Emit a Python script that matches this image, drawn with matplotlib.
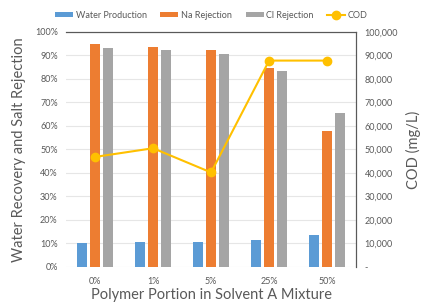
import matplotlib.pyplot as plt
import matplotlib.ticker as mticker
import numpy as np

plt.rcParams['font.family'] = ['Lato', 'DejaVu Sans']

# ===== Dados =====
categorias = ['0%', '1%', '5%', '25%', '50%']
water_production = [10.3, 10.4, 10.4, 11.5, 13.7]
na_rejection = [94.9, 93.4, 92.2, 84.8, 58.0]
cl_rejection = [93.3, 92.1, 90.6, 83.2, 65.6]
cod = [46800, 50500, 40200, 87800, 87800]

cores = {'water': '#5B9BD5', 'na': '#ED7D31', 'cl': '#A5A5A5', 'cod': '#FFC000'}
cor_texto = '#595959'

fig = plt.figure(figsize=(4.23, 3.04), dpi=100)
ax = fig.add_axes([0.156, 0.122, 0.686, 0.773])
ax2 = ax.twinx()

x = np.arange(len(categorias))
w = 0.17
d = 0.225
ax.bar(x - d, water_production, w, color=cores['water'], label='Water Production', zorder=2)
ax.bar(x, na_rejection, w, color=cores['na'], label='Na Rejection', zorder=2)
ax.bar(x + d, cl_rejection, w, color=cores['cl'], label='Cl Rejection', zorder=2)

ax2.plot(x, cod, color=cores['cod'], marker='o', markersize=6, linewidth=1.5, label='COD')

ax.set_xlim(-0.5, len(categorias) - 0.5)
ax.set_ylim(0, 100)
ax.set_yticks(np.arange(0, 101, 10))
ax.yaxis.set_major_formatter(mticker.FuncFormatter(lambda v, p: f'{int(v)}%'))
ax.set_xticks(x)
ax.set_xticklabels(categorias)

ax2.set_ylim(0, 100000)
ax2.set_yticks(np.arange(0, 100001, 10000))
ax2.yaxis.set_major_formatter(mticker.FuncFormatter(lambda v, p: '-' if v == 0 else f'{int(v):,}'))

ax.grid(axis='y', color='#E6E6E6', linewidth=0.8, zorder=0)
ax.set_axisbelow(True)

for a in (ax, ax2):
    a.spines['left'].set_visible(False)
    a.spines['bottom'].set_visible(False)
    a.spines['top'].set_color('#595959')
    a.spines['right'].set_color('#595959')
    a.tick_params(length=0, labelsize=6.5, colors=cor_texto, pad=6)
ax.tick_params(axis='x', pad=7)

ax.set_ylabel('Water Recovery and Salt Rejection', fontsize=10.5, color=cor_texto, labelpad=6)
ax2.set_ylabel('COD (mg/L)', fontsize=10.5, color=cor_texto, labelpad=6)
ax.set_xlabel('Polymer Portion in Solvent A Mixture', fontsize=10.5, color=cor_texto, labelpad=2)

h1, l1 = ax.get_legend_handles_labels()
h2, l2 = ax2.get_legend_handles_labels()
fig.legend(h1 + h2, l1 + l2, loc='center', bbox_to_anchor=(0.5, 0.95), ncol=4, frameon=False,
           fontsize=6.5, labelcolor=cor_texto, handlelength=2.0, handleheight=0.5,
           columnspacing=1.5, handletextpad=0.3)

plt.savefig('out.png', dpi=100)
